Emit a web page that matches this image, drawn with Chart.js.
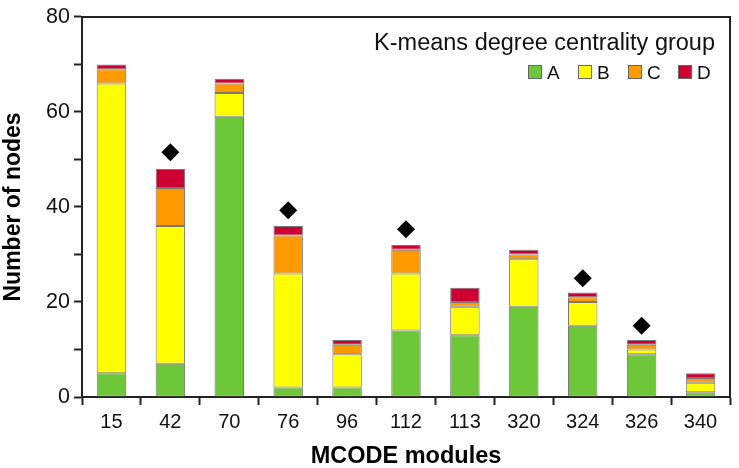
<!DOCTYPE html>
<html>
<head>
<meta charset="utf-8">
<script src="https://cdn.jsdelivr.net/npm/chart.js@4"></script>
<style>
  html, body { margin: 0; padding: 0; background: #fff; }
</style>
</head>
<body>
<canvas id="chartNodes" width="739" height="468"></canvas>
<script>
/* data */
const modules = ["15", "42", "70", "76", "96", "112", "113", "320", "324", "326", "340"];
const groupA = [5, 7, 59, 2, 2, 14, 13, 19, 15, 9, 1];
const groupB = [61, 29, 5, 24, 7, 12, 6, 10, 5, 1, 2];
const groupC = [3, 8, 2, 8, 2, 5, 1, 1, 1, 1, 1];
const groupD = [1, 4, 1, 2, 1, 1, 3, 1, 1, 1, 1];
const markers = [null, 51.5, null, 39.3, null, 35.3, null, null, 25, 15, null];
const yTicks = [0, 20, 40, 60, 80];

const legendTitle = "K-means degree centrality group";
const fontFam = "'Liberation Sans', Arial, sans-serif";

/* frame + legend */
const extras = {
  id: "extras",
  afterDraw(chart) {
    const ctx = chart.ctx;
    const a = chart.chartArea;
    ctx.save();
    ctx.strokeStyle = "#222";
    ctx.lineWidth = 2;
    ctx.beginPath();
    ctx.moveTo(a.left, a.top);
    ctx.lineTo(a.right, a.top);
    ctx.lineTo(a.right, a.bottom);
    ctx.stroke();

    ctx.fillStyle = "#111";
    ctx.font = "23.5px " + fontFam;
    ctx.textAlign = "right";
    ctx.textBaseline = "alphabetic";
    ctx.fillText(legendTitle, 715, 50);

    ctx.font = "19px " + fontFam;
    ctx.textAlign = "left";
    const bars = chart.data.datasets.filter(d => d.type !== "line");
    bars.forEach((d, i) => {
      const x = 528 + i * 50;
      ctx.fillStyle = d.backgroundColor;
      ctx.fillRect(x, 65, 14, 14);
      ctx.strokeStyle = "#666";
      ctx.lineWidth = 1;
      ctx.strokeRect(x + 0.5, 65.5, 13, 13);
      ctx.fillStyle = "#111";
      ctx.fillText(d.label, x + 19, 79);
    });
    ctx.restore();
  },
};

const cNodes = document.getElementById("chartNodes");
new Chart(cNodes, {
  type: "bar",
  data: {
    labels: modules,
    datasets: [
      { label: "A", data: groupA, backgroundColor: "#6ec639" },
      { label: "B", data: groupB, backgroundColor: "#ffff00" },
      { label: "C", data: groupC, backgroundColor: "#ff9900" },
      { label: "D", data: groupD, backgroundColor: "#cc0033" },
      {
        type: "line",
        label: "marker",
        data: markers,
        stack: "marker",
        showLine: false,
        pointStyle: "rectRot",
        pointRadius: 9,
        pointBackgroundColor: "#000",
        pointBorderColor: "#000",
        pointBorderWidth: 0,
      },
    ].map(d => d.type ? d : Object.assign(d, {
      borderColor: "#777",
      borderWidth: 1,
      borderSkipped: false,
      stack: "g",
      barPercentage: 0.5,
      categoryPercentage: 1,
    })),
  },
  options: {
    responsive: false,
    animation: false,
    layout: { padding: { top: 10, right: 2, left: 0, bottom: 0 } },
    plugins: {
      legend: { display: false },
      tooltip: { enabled: false },
    },
    scales: {
      x: {
        stacked: true,
        afterFit(scale) { scale.height = 71; },
        grid: {
          offset: true,
          drawOnChartArea: false,
          drawTicks: true,
          tickLength: 8,
          tickColor: "#222",
          tickWidth: 2,
        },
        border: { color: "#222", width: 2 },
        ticks: {
          color: "#111",
          padding: 5,
          font: { family: fontFam, size: 20 },
          maxRotation: 0,
        },
        title: {
          display: true,
          text: "MCODE modules",
          color: "#000",
          font: { family: fontFam, size: 23.5, weight: "bold", lineHeight: 1 },
          padding: { top: 0, bottom: 0 },
        },
      },
      y: {
        stacked: true,
        min: 0,
        max: 80,
        afterFit(scale) { scale.width = 82; },
        grid: {
          drawOnChartArea: false,
          drawTicks: true,
          tickLength: 8,
          tickColor: "#222",
          tickWidth: 2,
        },
        border: { color: "#222", width: 2 },
        ticks: {
          stepSize: 10,
          color: "#111",
          padding: 4,
          font: { family: fontFam, size: 21.5 },
          callback: v => (yTicks.includes(v) ? String(v) : ""),
        },
        title: {
          display: true,
          text: "Number of nodes",
          color: "#000",
          font: { family: fontFam, size: 23, weight: "bold", lineHeight: 1 },
          padding: { top: 2, bottom: 0 },
        },
      },
    },
  },
  plugins: [extras],
});
</script>
</body>
</html>
